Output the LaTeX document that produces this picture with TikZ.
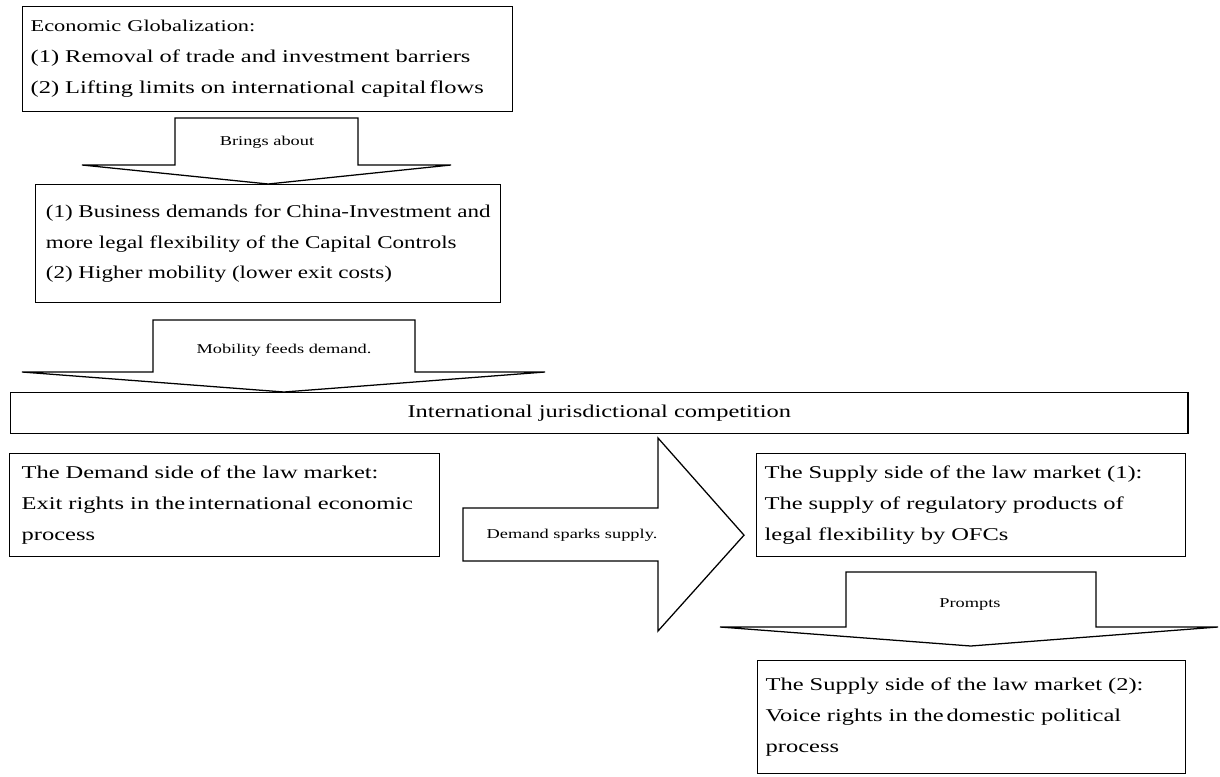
\documentclass[tikz,border=0pt]{standalone}
\usepackage{fontspec}
\setmainfont[FakeStretch=1.36]{Liberation Serif}
\newfontfamily\tightfont[FakeStretch=1.28]{Liberation Serif}
\usetikzlibrary{calc}

\begin{document}
\begin{tikzpicture}[
    x=0.025cm, y=-0.025cm,
    box/.style={rectangle, draw, line width=0.9pt, anchor=north west, inner xsep=0.2cm, inner ysep=0pt, align=left, font=\fontsize{12.8}{22}\selectfont},
    blockarrow/.style={draw, line width=0.9pt, line join=miter, fill=white},
    arrowlabel/.style={inner sep=0pt, font=\fontsize{9.6}{11}\selectfont}
]
\useasboundingbox (0,0) rectangle (1220,776);

% Causes
\node[box, text width=11.85cm, minimum height=2.625cm] (glob) at (22,6) {{\fontsize{11.7}{22}\selectfont Economic Globalization:}\\(1) Removal of trade and investment barriers\\(2) Lifting limits on international capital\,flows};
\node[box, minimum width=11.625cm, minimum height=2.95cm, font=\tightfont\fontsize{12.8}{22}\selectfont] (demands) at (35,184) {(1) Business demands for China-Investment and\\more legal flexibility of the Capital Controls\\(2) Higher mobility (lower exit costs)};

% Competition
\node[box, minimum width=29.425cm, minimum height=1.025cm] (comp) at (10,392) {International jurisdictional competition};

% Law market
\node[box, inner xsep=0.3cm, text width=10.15cm, minimum height=2.575cm] (demand) at (9,453) {The Demand side of the law market:\\Exit rights in the\,international economic\\process};
\node[box, text width=10.325cm, minimum height=2.575cm] (supply) at (756,453) {The Supply side of the law market (1):\\The supply of regulatory products of\\legal flexibility by OFCs};
\node[box, text width=10.3cm, minimum height=2.825cm] (voice) at (757,660) {The Supply side of the law market (2):\\Voice rights in the\,domestic political\\process};

% Block arrows
\draw[blockarrow] (175,118) -- (358,118) -- (358,165) -- (451,165) -- (demands.north) -- (82,165) -- (175,165) -- cycle;
\draw[blockarrow] (153,320) -- (415,320) -- (415,372) -- (545,372) -- ($(comp.north west)+(274,0)$) -- (22,372) -- (153,372) -- cycle;
\draw[blockarrow] (463,508) -- (658,508) -- (658,438) -- ($(supply.west)+(-12,30)$) -- (658,631) -- (658,561) -- (463,561) -- cycle;
\draw[blockarrow] (846,572) -- (1096,572) -- (1096,627) -- (1218,627) -- ($(voice.north)+(-1,-14)$) -- (720,627) -- (846,627) -- cycle;

% Labels
\node[arrowlabel] (bringslbl) at (267,142) {Brings about};
\node[arrowlabel] (feedslbl) at (284,350) {Mobility feeds demand.};
\node[arrowlabel] (sparkslbl) at (572,535) {Demand sparks supply.};
\node[arrowlabel] (promptslbl) at (970,605) {Prompts};

\end{tikzpicture}
\end{document}
